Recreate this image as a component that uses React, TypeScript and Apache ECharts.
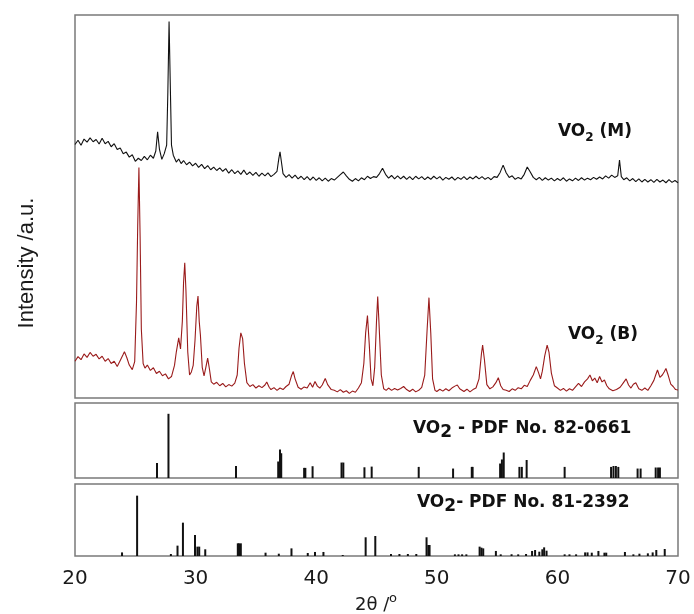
import React, { useEffect, useRef } from "react";
import * as echarts from "echarts";

// 2θ axis
const X_MIN = 20;
const X_MAX = 70;
const X_STEP = 10;

// VO2 (M) measured pattern, offset intensity (a.u.)
const vo2M: [number, number][] = [
  [20.0, 66.2], [20.25, 67.3], [20.5, 66.0], [20.75, 67.6], [21.0, 66.8], [21.25, 67.9], [21.5, 66.9], [21.75, 67.5],
  [22.0, 66.3], [22.25, 67.8], [22.5, 66.4], [22.75, 67.0], [23.0, 65.6], [23.25, 66.4], [23.5, 64.9], [23.75, 65.3],
  [24.0, 63.8], [24.25, 64.2], [24.5, 62.9], [24.75, 63.5], [25.0, 61.8], [25.25, 62.6], [25.5, 62.0], [25.75, 63.1],
  [26.0, 62.2], [26.25, 63.4], [26.5, 62.6], [26.7, 64.5], [26.85, 69.5], [27.0, 65.0], [27.2, 62.3], [27.4, 63.8],
  [27.6, 66.0], [27.7, 80.0], [27.8, 98.3], [27.9, 82.0], [28.0, 66.0], [28.15, 63.4], [28.4, 61.6], [28.6, 62.4],
  [28.8, 61.2], [29.0, 62.0], [29.25, 60.9], [29.5, 61.6], [29.75, 60.6], [30.0, 61.3], [30.25, 60.2], [30.5, 61.0],
  [30.75, 59.9], [31.0, 60.7], [31.25, 59.6], [31.5, 60.3], [31.75, 59.4], [32.0, 60.1], [32.25, 59.2], [32.5, 59.9],
  [32.75, 58.7], [33.0, 59.6], [33.25, 58.6], [33.5, 59.3], [33.75, 58.4], [34.0, 59.5], [34.25, 58.3], [34.5, 59.0],
  [34.75, 58.1], [35.0, 58.9], [35.25, 57.9], [35.5, 58.7], [35.75, 58.0], [36.0, 58.8], [36.25, 57.8], [36.5, 58.4],
  [36.75, 59.2], [36.9, 62.5], [37.0, 64.3], [37.1, 62.0], [37.25, 58.6], [37.5, 57.6], [37.75, 58.3], [38.0, 57.4],
  [38.25, 58.2], [38.5, 57.2], [38.75, 57.9], [39.0, 57.0], [39.25, 57.8], [39.5, 56.9], [39.75, 57.7], [40.0, 56.8],
  [40.25, 57.5], [40.5, 56.7], [40.75, 57.4], [41.0, 56.6], [41.25, 57.3], [41.5, 56.9], [41.75, 57.6], [42.0, 58.3],
  [42.25, 59.0], [42.5, 58.0], [42.75, 57.1], [43.0, 56.6], [43.25, 57.3], [43.5, 56.7], [43.75, 57.5], [44.0, 57.0],
  [44.25, 57.9], [44.5, 57.3], [44.75, 57.8], [45.0, 57.6], [45.25, 58.6], [45.5, 60.0], [45.75, 58.4], [46.0, 57.4],
  [46.25, 58.1], [46.5, 57.2], [46.75, 58.0], [47.0, 57.2], [47.25, 57.9], [47.5, 57.1], [47.75, 57.8], [48.0, 57.0],
  [48.25, 57.9], [48.5, 57.2], [48.75, 57.8], [49.0, 57.0], [49.25, 57.7], [49.5, 57.1], [49.75, 57.9], [50.0, 57.2],
  [50.25, 57.8], [50.5, 56.9], [50.75, 57.6], [51.0, 57.1], [51.25, 57.7], [51.5, 56.9], [51.75, 57.6], [52.0, 57.1],
  [52.25, 57.8], [52.5, 57.0], [52.75, 57.7], [53.0, 57.2], [53.25, 57.9], [53.5, 57.2], [53.75, 57.8], [54.0, 57.1],
  [54.25, 57.6], [54.5, 57.0], [54.75, 57.8], [55.0, 57.6], [55.25, 58.9], [55.5, 60.8], [55.75, 58.8], [56.0, 57.6],
  [56.25, 58.0], [56.5, 57.1], [56.75, 57.6], [57.0, 57.2], [57.25, 58.4], [57.5, 60.3], [57.75, 59.0], [58.0, 57.6],
  [58.25, 57.0], [58.5, 57.6], [58.75, 56.8], [59.0, 57.5], [59.25, 56.9], [59.5, 57.4], [59.75, 56.7], [60.0, 57.3],
  [60.25, 56.8], [60.5, 57.5], [60.75, 56.6], [61.0, 57.2], [61.25, 56.7], [61.5, 57.4], [61.75, 56.8], [62.0, 57.5],
  [62.25, 56.9], [62.5, 57.4], [62.75, 57.0], [63.0, 57.6], [63.25, 57.1], [63.5, 57.7], [63.75, 57.2], [64.0, 58.0],
  [64.25, 57.4], [64.5, 58.2], [64.75, 57.6], [65.0, 58.0], [65.15, 62.1], [65.3, 57.8], [65.5, 57.0], [65.75, 57.5],
  [66.0, 56.7], [66.25, 57.3], [66.5, 56.5], [66.75, 57.2], [67.0, 56.4], [67.25, 57.1], [67.5, 56.4], [67.75, 57.0],
  [68.0, 56.3], [68.25, 57.1], [68.5, 56.4], [68.75, 56.9], [69.0, 56.2], [69.25, 57.0], [69.5, 56.3], [69.75, 56.8],
  [70.0, 56.2],
];

// VO2 (B) measured pattern
const vo2B: [number, number][] = [
  [20.0, 9.6], [20.25, 10.8], [20.5, 10.0], [20.75, 11.5], [21.0, 10.6], [21.25, 11.9], [21.5, 10.9], [21.75, 11.4],
  [22.0, 10.2], [22.25, 10.9], [22.5, 9.6], [22.75, 10.3], [23.0, 9.0], [23.25, 9.6], [23.5, 8.2], [23.75, 9.8],
  [24.0, 11.4], [24.1, 12.1], [24.3, 10.5], [24.5, 8.6], [24.75, 7.4], [24.95, 9.5], [25.1, 25.0], [25.2, 45.0],
  [25.3, 60.2], [25.4, 42.0], [25.5, 18.0], [25.65, 9.0], [25.8, 7.8], [26.0, 8.6], [26.25, 7.2], [26.5, 7.9],
  [26.75, 6.4], [27.0, 7.0], [27.25, 5.8], [27.5, 6.3], [27.75, 5.0], [28.0, 5.6], [28.25, 8.5], [28.4, 12.0],
  [28.6, 15.7], [28.75, 12.8], [28.9, 20.0], [29.0, 30.0], [29.1, 35.3], [29.2, 28.0], [29.35, 12.0], [29.5, 6.0],
  [29.65, 6.8], [29.8, 8.5], [29.95, 15.0], [30.1, 24.0], [30.2, 26.6], [30.3, 20.0], [30.4, 16.4], [30.55, 8.0],
  [30.7, 5.8], [30.85, 8.0], [31.0, 10.4], [31.15, 7.5], [31.3, 4.2], [31.5, 3.6], [31.75, 4.1], [32.0, 3.2],
  [32.25, 3.8], [32.5, 2.9], [32.75, 3.5], [33.0, 3.1], [33.25, 3.9], [33.45, 6.0], [33.6, 13.0], [33.75, 17.0],
  [33.9, 15.5], [34.05, 9.0], [34.25, 4.0], [34.5, 3.0], [34.75, 3.5], [35.0, 2.6], [35.25, 3.2], [35.5, 2.7],
  [35.75, 3.4], [35.9, 4.2], [36.1, 2.8], [36.25, 2.2], [36.5, 2.7], [36.75, 2.0], [37.0, 2.6], [37.25, 2.2],
  [37.5, 3.0], [37.75, 3.6], [37.95, 5.8], [38.1, 6.9], [38.25, 5.0], [38.5, 2.8], [38.75, 2.3], [39.0, 2.9],
  [39.25, 2.6], [39.5, 4.0], [39.7, 2.8], [39.9, 4.3], [40.1, 3.1], [40.3, 2.6], [40.5, 3.4], [40.75, 5.1],
  [40.95, 3.5], [41.25, 2.2], [41.5, 2.0], [41.75, 1.6], [42.0, 2.2], [42.25, 1.5], [42.5, 1.9], [42.75, 1.2],
  [43.0, 1.8], [43.25, 1.5], [43.5, 2.6], [43.75, 4.0], [43.95, 9.0], [44.1, 17.0], [44.25, 21.5], [44.4, 14.0],
  [44.55, 5.0], [44.7, 3.2], [44.85, 8.0], [45.0, 20.0], [45.1, 26.5], [45.2, 20.0], [45.4, 6.0], [45.6, 2.4],
  [45.8, 2.0], [46.0, 2.6], [46.25, 2.0], [46.5, 2.5], [46.75, 2.1], [47.0, 2.5], [47.25, 3.0], [47.5, 2.2],
  [47.75, 1.7], [48.0, 2.3], [48.25, 1.6], [48.5, 2.0], [48.75, 2.8], [49.0, 6.0], [49.2, 18.0], [49.35, 26.2],
  [49.5, 17.0], [49.65, 5.0], [49.85, 2.0], [50.0, 1.7], [50.25, 2.3], [50.5, 1.8], [50.75, 2.4], [51.0, 1.9],
  [51.25, 2.6], [51.5, 3.1], [51.7, 3.4], [51.9, 2.4], [52.25, 1.7], [52.5, 2.3], [52.75, 1.6], [53.0, 2.2],
  [53.25, 2.6], [53.5, 5.0], [53.7, 11.5], [53.8, 13.8], [53.95, 10.0], [54.15, 3.5], [54.4, 2.4], [54.65, 2.9],
  [54.9, 4.0], [55.1, 5.3], [55.3, 3.2], [55.5, 2.2], [55.75, 2.0], [56.0, 1.7], [56.25, 2.4], [56.5, 2.0],
  [56.75, 2.7], [57.0, 2.4], [57.25, 3.3], [57.5, 3.0], [57.75, 4.6], [58.0, 6.0], [58.25, 8.2], [58.45, 6.5],
  [58.6, 5.0], [58.75, 7.0], [58.95, 11.0], [59.15, 13.8], [59.3, 12.0], [59.5, 6.5], [59.75, 3.2], [60.0, 2.6],
  [60.25, 2.0], [60.5, 2.5], [60.75, 1.8], [61.0, 2.4], [61.25, 2.0], [61.5, 2.9], [61.75, 3.8], [62.0, 3.0],
  [62.25, 4.2], [62.5, 5.0], [62.7, 6.0], [62.9, 4.5], [63.1, 5.2], [63.3, 4.0], [63.5, 5.6], [63.7, 4.2],
  [63.9, 4.7], [64.1, 3.2], [64.3, 2.4], [64.6, 1.9], [64.9, 2.2], [65.2, 2.8], [65.45, 3.9], [65.7, 5.0],
  [65.9, 3.4], [66.1, 2.6], [66.3, 3.6], [66.5, 4.0], [66.75, 2.4], [67.0, 2.0], [67.25, 2.6], [67.5, 2.0],
  [67.75, 3.2], [68.0, 4.6], [68.15, 6.0], [68.3, 7.3], [68.5, 5.4], [68.7, 6.0], [68.85, 6.8], [69.0, 7.7],
  [69.2, 5.8], [69.4, 3.6], [69.6, 3.0], [69.8, 2.2], [70.0, 2.1],
];

// Reference stick patterns: [2θ, relative intensity %]
const pdf82_0661: [number, number][] = [
  [26.8, 20], [27.75, 85.6], [33.35, 16], [36.85, 22], [37.0, 38], [37.1, 33], [39.0, 13.5], [39.1, 13.5],
  [39.7, 15.7], [42.1, 20.6], [42.25, 20.6], [44.0, 14.3], [44.6, 15.2], [48.5, 14.8], [51.35, 12.6], [52.9, 14.8],
  [52.97, 14.8], [55.25, 19.3], [55.4, 24.7], [55.55, 34], [56.85, 14.8], [57.05, 14.8], [57.45, 24], [60.6, 14.8],
  [64.45, 14.8], [64.65, 16], [64.85, 16], [65.05, 14.8], [66.65, 12.6], [66.9, 12.6], [68.15, 14], [68.35, 14],
  [68.5, 14],
];
const pdf81_2392: [number, number][] = [
  [23.9, 5], [25.15, 83.8], [27.95, 2.8], [28.5, 14.4], [28.95, 46.3], [29.95, 29.2], [30.15, 13], [30.3, 13],
  [30.8, 9.3], [33.5, 17.6], [33.6, 17.6], [33.75, 17.6], [35.8, 4.6], [36.9, 3.2], [37.95, 10.6], [39.3, 4.2],
  [39.9, 5.6], [40.6, 5.6], [42.2, 1.4], [44.1, 26], [44.9, 27.8], [46.2, 2.8], [46.9, 2.8], [47.6, 2.8],
  [48.3, 2.8], [49.15, 26], [49.3, 15.3], [49.4, 15.3], [51.5, 2.3], [51.8, 2.3], [52.1, 2.3], [52.45, 2.3],
  [53.55, 13], [53.7, 11.6], [53.85, 10.6], [54.9, 7], [55.3, 2.3], [56.2, 2.3], [56.75, 2.3], [57.4, 2.8],
  [57.9, 7], [58.15, 8.3], [58.5, 6], [58.75, 9.3], [58.9, 12], [59.1, 7.4], [60.6, 2.3], [61.0, 2.3],
  [61.55, 2.3], [62.3, 5], [62.5, 5], [62.85, 4.6], [63.4, 7], [63.9, 4.6], [64.05, 4.6], [65.6, 5.6],
  [66.3, 2.3], [66.8, 3.2], [67.5, 3.7], [67.9, 5], [68.2, 8.3], [68.9, 9.7],
];

// Texts
const yTitle = "Intensity /a.u.";
const xTitleMain = "2θ /";
const xTitleSup = "o";
const formulaHead = "VO";
const formulaSub = "2";
const tailM = " (M)";
const tailB = " (B)";
const tail82 = " - PDF No. 82-0661";
const tail81 = "- PDF No. 81-2392";

const FONT = "DejaVu Sans";
const INK = "#111";

function measure(text: string, font: string): number {
  const c = document.createElement("canvas").getContext("2d");
  if (!c) return text.length * 10;
  c.font = font;
  return c.measureText(text).width;
}

// formula label built from three texts: head, lowered "2", tail
function formulaLabel(
  tail: string,
  x: number,
  cy: number,
  subSize: number,
  subDrop: number
) {
  const mainFont = `bold 17px "${FONT}"`;
  const subFont = `bold ${subSize}px "${FONT}"`;
  const w1 = measure(formulaHead, mainFont);
  const w2 = measure(formulaSub, subFont);
  const base = {
    align: "left",
    verticalAlign: "middle",
    fontFamily: FONT,
    fontWeight: "bold",
    fill: INK,
  };
  return {
    type: "group",
    children: [
      { type: "text", x, y: cy, style: { ...base, text: formulaHead, fontSize: 17 } },
      { type: "text", x: x + w1, y: cy + subDrop, style: { ...base, text: formulaSub, fontSize: subSize } },
      { type: "text", x: x + w1 + w2, y: cy, style: { ...base, text: tail, fontSize: 17 } },
    ],
  };
}

export default function App() {
  const ref = useRef<HTMLDivElement>(null);

  useEffect(() => {
    if (!ref.current) return;
    const chart = echarts.init(ref.current, undefined, { renderer: "svg" });
    const gridBase = {
      left: 75,
      right: 16,
      show: true,
      borderColor: "#7a7a7a",
      borderWidth: 1.5,
      backgroundColor: "transparent",
    };
    const xAxes = [0, 1, 2].map((i) => ({
      type: "value",
      gridIndex: i,
      min: X_MIN,
      max: X_MAX,
      interval: X_STEP,
      axisLine: { show: false },
      axisTick: { show: false },
      splitLine: { show: false },
      axisLabel: {
        show: i === 2,
        fontFamily: FONT,
        fontSize: 20,
        color: "#1a1a1a",
        margin: 11,
        showMinLabel: true,
        showMaxLabel: true,
      },
    }));
    const yAxes = [0, 1, 2].map((i) => ({
      type: "value",
      gridIndex: i,
      min: 0,
      max: 100,
      show: false,
    }));
    chart.setOption({
      animation: false,
      grid: [
        { ...gridBase, top: 15, height: 383 },
        { ...gridBase, top: 403, height: 75 },
        { ...gridBase, top: 484, height: 72 },
      ],
      xAxis: xAxes,
      yAxis: yAxes,
      series: [
        {
          type: "line",
          xAxisIndex: 0,
          yAxisIndex: 0,
          data: vo2M,
          symbol: "none",
          lineStyle: { color: INK, width: 1.1 },
          z: 3,
        },
        {
          type: "line",
          xAxisIndex: 0,
          yAxisIndex: 0,
          data: vo2B,
          symbol: "none",
          lineStyle: { color: "#9a1b1b", width: 1.1 },
          z: 2,
        },
        {
          type: "bar",
          xAxisIndex: 1,
          yAxisIndex: 1,
          data: pdf82_0661,
          barWidth: 2,
          itemStyle: { color: INK },
        },
        {
          type: "bar",
          xAxisIndex: 2,
          yAxisIndex: 2,
          data: pdf81_2392,
          barWidth: 2,
          itemStyle: { color: INK },
        },
      ],
      graphic: [
        {
          type: "text",
          x: 25,
          y: 263,
          rotation: Math.PI / 2,
          style: {
            text: yTitle,
            align: "center",
            verticalAlign: "middle",
            fontFamily: "Liberation Sans",
            fontSize: 22,
            fill: "#1a1a1a",
          },
        },
        {
          type: "text",
          x: 355,
          y: 603,
          style: {
            text: xTitleMain,
            align: "left",
            verticalAlign: "middle",
            fontFamily: FONT,
            fontSize: 18,
            fill: "#1a1a1a",
          },
        },
        {
          type: "text",
          x: 389,
          y: 597,
          style: {
            text: xTitleSup,
            align: "left",
            verticalAlign: "middle",
            fontFamily: FONT,
            fontSize: 13,
            fill: "#1a1a1a",
          },
        },
        formulaLabel(tailM, 558, 130, 12, 7),
        formulaLabel(tailB, 568, 333, 12, 7),
        formulaLabel(tail82, 413, 427, 17, 4),
        formulaLabel(tail81, 417, 501, 17, 4),
      ],
    });
    return () => chart.dispose();
  }, []);

  return (
    <div
      ref={ref}
      style={{ position: "fixed", left: 0, top: 0, width: 694, height: 614 }}
    />
  );
}
